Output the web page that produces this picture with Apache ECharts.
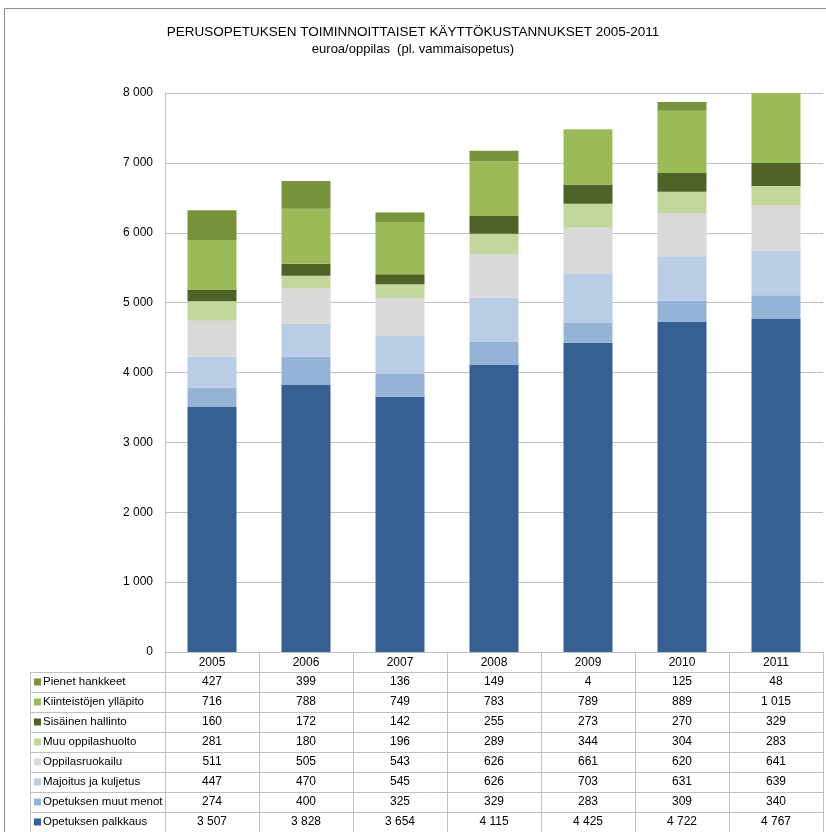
<!DOCTYPE html>
<html>
<head>
<meta charset="utf-8">
<script src="https://cdn.jsdelivr.net/npm/echarts@6/dist/echarts.min.js"></script>
<style>
  html, body { margin: 0; padding: 0; background: #fff; }
  #chart { width: 826px; height: 832px; }
</style>
</head>
<body>
<div id="chart"></div>
<script>
// data
const years = ['2005', '2006', '2007', '2008', '2009', '2010', '2011'];
const palkkaus = [3507, 3828, 3654, 4115, 4425, 4722, 4767];
const muutMenot = [274, 400, 325, 329, 283, 309, 340];
const majoitus = [447, 470, 545, 626, 703, 631, 639];
const ruokailu = [511, 505, 543, 626, 661, 620, 641];
const oppilashuolto = [281, 180, 196, 289, 344, 304, 283];
const hallinto = [160, 172, 142, 255, 273, 270, 329];
const kiinteistot = [716, 788, 749, 783, 789, 889, 1015];
const hankkeet = [427, 399, 136, 149, 4, 125, 48];

// bottom to top
const seriesDefs = [
  { name: 'Opetuksen palkkaus', data: palkkaus, color: '#376092' },
  { name: 'Opetuksen muut menot', data: muutMenot, color: '#95b3d7' },
  { name: 'Majoitus ja kuljetus', data: majoitus, color: '#b9cde5' },
  { name: 'Oppilasruokailu', data: ruokailu, color: '#d9d9d9' },
  { name: 'Muu oppilashuolto', data: oppilashuolto, color: '#c3d69b' },
  { name: 'Sisäinen hallinto', data: hallinto, color: '#4f6228' },
  { name: 'Kiinteistöjen ylläpito', data: kiinteistot, color: '#9bbb59' },
  { name: 'Pienet hankkeet', data: hankkeet, color: '#77933c' }
];

const fmt = v => String(v).replace(/\B(?=(\d{3})+(?!\d))/g, ' ');
const FONT = '"Liberation Sans", Arial, sans-serif';
const lineColor = '#c0c0c0';

const chart = echarts.init(document.getElementById('chart'));
chart.setOption({
  animation: false,
  textStyle: { fontFamily: FONT },
  title: {
    text: 'PERUSOPETUKSEN TOIMINNOITTAISET KÄYTTÖKUSTANNUKSET 2005-2011',
    subtext: 'euroa/oppilas  (pl. vammaisopetus)',
    left: 'center',
    top: 20,
    itemGap: 4,
    textStyle: { fontSize: 13.5, fontWeight: 'normal', color: '#000', fontFamily: FONT },
    subtextStyle: { fontSize: 13, color: '#000', fontFamily: FONT }
  },
  grid: { left: 165, right: 3, top: 93, bottom: 180 },
  xAxis: {
    type: 'category',
    data: years,
    axisLine: { lineStyle: { color: lineColor } },
    axisTick: { show: false },
    axisLabel: { color: '#000', fontSize: 12, margin: 5 }
  },
  yAxis: {
    type: 'value',
    min: 0,
    max: 8000,
    interval: 1000,
    axisLine: { show: true, lineStyle: { color: lineColor } },
    axisTick: { show: false },
    splitLine: { lineStyle: { color: lineColor } },
    axisLabel: { formatter: fmt, color: '#000', fontSize: 12, margin: 12 }
  },
  series: seriesDefs.map(s => ({
    type: 'bar',
    name: s.name,
    stack: 'total',
    data: s.data,
    barWidth: 49,
    clip: true,
    itemStyle: { color: s.color }
  }))
});

// data table under the chart, placed with the axis scales
const x0 = chart.convertToPixel({ xAxisIndex: 0 }, 0);
const band = chart.convertToPixel({ xAxisIndex: 0 }, 1) - x0;
const gridLeft = x0 - band / 2;
const gridRight = gridLeft + band * years.length;
const yZero = chart.convertToPixel({ yAxisIndex: 0 }, 0);
const headerH = 20, rowH = 20, tableLeft = 30;
const rows = seriesDefs.slice().reverse();
const tableBottom = yZero + headerH + rows.length * rowH;
const els = [];

els.push({
  type: 'rect', silent: true,
  shape: { x: 4.5, y: 8.5, width: 840, height: 840 },
  style: { fill: 'none', stroke: '#8c8c8c', lineWidth: 1 }
});

for (let r = 0; r <= rows.length; r++) {
  const y = Math.round(yZero + headerH + r * rowH) + 0.5;
  els.push({ type: 'line', silent: true, shape: { x1: tableLeft, y1: y, x2: gridRight, y2: y }, style: { stroke: lineColor, lineWidth: 1 } });
}
for (let c = 0; c <= years.length; c++) {
  const x = Math.round(gridLeft + c * band) + 0.5;
  els.push({ type: 'line', silent: true, shape: { x1: x, y1: yZero, x2: x, y2: tableBottom }, style: { stroke: lineColor, lineWidth: 1 } });
}
els.push({ type: 'line', silent: true, shape: { x1: tableLeft + 0.5, y1: yZero + headerH, x2: tableLeft + 0.5, y2: tableBottom }, style: { stroke: lineColor, lineWidth: 1 } });

rows.forEach((s, r) => {
  const cy = yZero + headerH + r * rowH + rowH / 2;
  els.push({ type: 'rect', silent: true, shape: { x: tableLeft + 4, y: cy - 3.5, width: 7, height: 7 }, style: { fill: s.color } });
  els.push({ type: 'text', silent: true, x: tableLeft + 13, y: cy, style: { text: s.name, fill: '#000', font: '11.5px ' + FONT, align: 'left', verticalAlign: 'middle' } });
  s.data.forEach((v, i) => {
    const cx = chart.convertToPixel({ xAxisIndex: 0 }, i);
    els.push({ type: 'text', silent: true, x: cx, y: cy, style: { text: fmt(v), fill: '#000', font: '12px ' + FONT, align: 'center', verticalAlign: 'middle' } });
  });
});

chart.setOption({ graphic: { elements: els } });
</script>
</body>
</html>
